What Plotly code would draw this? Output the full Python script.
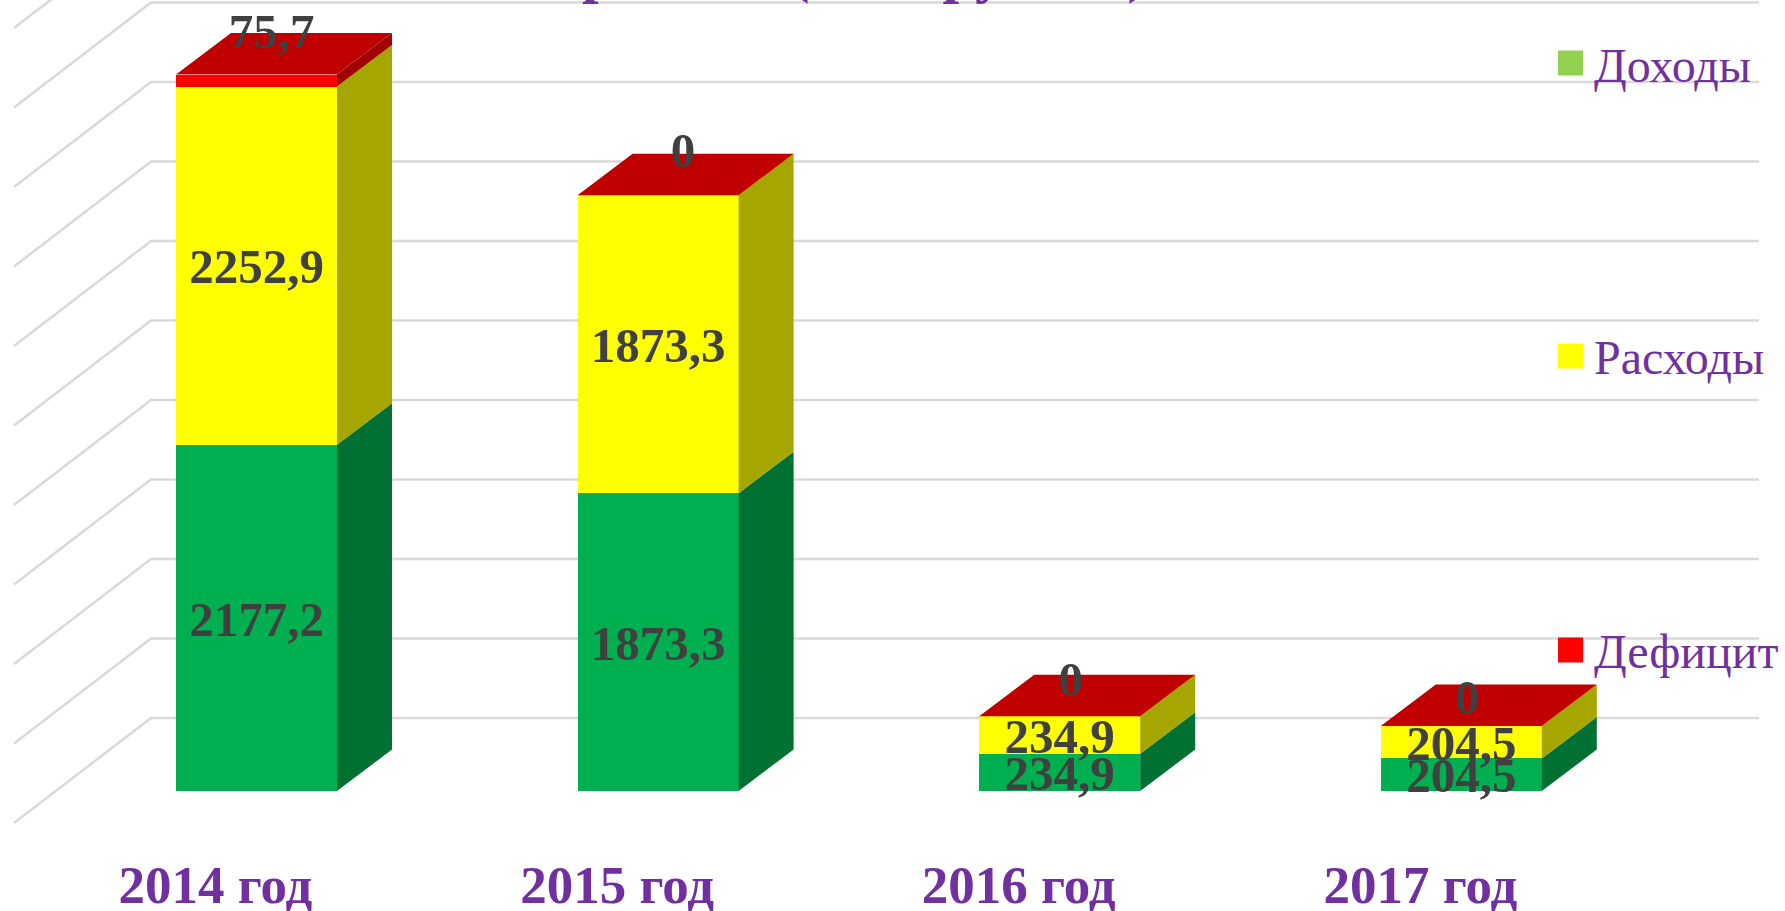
import plotly.graph_objects as go

# --- data -------------------------------------------------------------
years = ["2014 год", "2015 год", "2016 год", "2017 год"]
dohody = [2177.2, 1873.3, 234.9, 204.5]
rashody = [2252.9, 1873.3, 234.9, 204.5]
deficit = [75.7, 0, 0, 0]
grid_values = [0, 500, 1000, 1500, 2000, 2500, 3000, 3500, 4000, 4500, 5000]
legend_names = ["Доходы", "Расходы", "Дефицит"]
title_text = "района (тыс. рублей)"

# --- layout constants -------------------------------------------------
W, H = 1785, 911
PLOT_H = 843           # bottom of plot area, px
PX_CAT = 401.6         # px per category
CAT0 = 256.5           # px of first category centre
PX_VAL = 0.159         # px per value unit
Y0 = 791               # px of value 0
BAR_W = 161 / PX_CAT
DX = 55 / PX_CAT       # 3-D depth in x units
DY = 41.5 / PX_VAL     # 3-D depth in y units
WALL_DY = 73 / PX_VAL  # back wall raised relative to the bars
xr = [-CAT0 / PX_CAT, (W - CAT0) / PX_CAT]
yr = [-(PLOT_H - Y0) / PX_VAL, Y0 / PX_VAL]
X = lambda px: (px - CAT0) / PX_CAT

PURPLE = "#7030A0"
GREY_TXT = "#404040"
SERIF = "Liberation Serif"

GREEN, YELLOW, RED = "#00B050", "#FFFF00", "#FF0000"
GREEN_S, YELLOW_S, RED_S = "#007033", "#A6A600", "#A00000"
TOP = "#C00000"
LEG_COL = ["#92D050", "#FFFF00", "#FF0000"]
LEG_Y = [63, 356, 650]
LEG_TEXT_Y = [66, 358, 651]

# --- back wall + floor grid -------------------------------------------
shapes = []
for v in grid_values:
    yw = v + WALL_DY
    yf = yw - 105 / PX_VAL
    shapes.append(dict(type="path", layer="below", xref="x", yref="y",
                       path=f"M {X(14)} {yf} L {X(151)} {yw} L {X(1759)} {yw}",
                       line=dict(color="#D9D9D9", width=2.5)))

x_pos = list(range(len(years)))
fig = go.Figure()

# --- front faces ------------------------------------------------------
for name, vals, col in [(legend_names[0], dohody, GREEN),
                        (legend_names[1], rashody, YELLOW),
                        (legend_names[2], deficit, RED)]:
    fig.add_bar(x=x_pos, y=vals, name=name, width=BAR_W, marker=dict(color=col, line=dict(width=0)),
                showlegend=False, hoverinfo="skip")


# --- side & top faces, derived from the stacks ------------------------
def poly_trace(xs, ys, col):
    fig.add_scatter(x=xs, y=ys, mode="lines", fill="toself", fillcolor=col,
                    line=dict(width=0, color=col), showlegend=False, hoverinfo="skip")


def side(lows, highs, col):
    xs, ys = [], []
    for i, (lo, hi) in enumerate(zip(lows, highs)):
        x1 = i + BAR_W / 2
        xs += [x1, x1 + DX, x1 + DX, x1, x1, None]
        ys += [lo, lo + DY, hi + DY, hi, lo, None]
    poly_trace(xs, ys, col)


top1 = dohody
top2 = [a + b for a, b in zip(dohody, rashody)]
top3 = [a + b for a, b in zip(top2, deficit)]
side([0] * 4, top1, GREEN_S)
side(top1, top2, YELLOW_S)
side(top2, top3, RED_S)

xs, ys = [], []
for i, t in enumerate(top3):
    x0, x1 = i - BAR_W / 2, i + BAR_W / 2
    xs += [x0, x1, x1 + DX, x0 + DX, x0, None]
    ys += [t, t, t + DY, t + DY, t, None]
poly_trace(xs, ys, TOP)


# --- data labels ------------------------------------------------------
def fmt(v):
    return str(v).replace(".", ",") if v else "0"


LAB_DOWN = 5.5 / PX_VAL
lab_x, lab_y, lab_t = [], [], []
for i in x_pos:
    lab_x.append(i); lab_y.append(dohody[i] / 2 - LAB_DOWN); lab_t.append(fmt(dohody[i]))
    lab_x.append(i); lab_y.append(dohody[i] + rashody[i] / 2 - LAB_DOWN); lab_t.append(fmt(rashody[i]))
def_dx = [15, 25, 11, 6]
def_dy = [38.5, 40.5, 32.5, 24.5]
for i in x_pos:
    lab_x.append(i + def_dx[i] / PX_CAT)
    lab_y.append(top3[i] + def_dy[i] / PX_VAL)
    lab_t.append(fmt(deficit[i]))
fig.add_scatter(x=lab_x, y=lab_y, text=lab_t, mode="text", textposition="middle center",
                textfont=dict(family=SERIF, size=49, color=GREY_TXT, weight=700),
                showlegend=False, hoverinfo="skip")

# --- manual legend + clipped title ------------------------------------
annotations = []
for name, ly, ty, col in zip(legend_names, LEG_Y, LEG_TEXT_Y, LEG_COL):
    shapes.append(dict(type="rect", xref="paper", yref="paper", layer="above",
                       x0=1558 / W, x1=1583 / W,
                       y0=1 - (ly + 12.5) / PLOT_H, y1=1 - (ly - 12.5) / PLOT_H,
                       fillcolor=col, line=dict(width=0)))
    annotations.append(dict(xref="paper", yref="paper", x=1592 / W, y=1 - ty / PLOT_H,
                            text=name, showarrow=False, xanchor="left", yanchor="middle",
                            font=dict(family=SERIF, size=48, color=PURPLE)))
annotations.append(dict(xref="paper", yref="paper", x=1150 / W, y=1 + 29 / PLOT_H,
                        text=title_text, showarrow=False, xanchor="right", yanchor="middle",
                        font=dict(family=SERIF, size=60, color=PURPLE, weight=700)))

fig.update_layout(
    width=W, height=H, barmode="stack", showlegend=False,
    paper_bgcolor="white", plot_bgcolor="rgba(0,0,0,0)",
    margin=dict(l=0, r=0, t=0, b=H - PLOT_H, pad=0),
    shapes=shapes, annotations=annotations,
    xaxis=dict(range=xr, tickmode="array", tickvals=[i - 41 / PX_CAT for i in x_pos], ticktext=years,
               showgrid=False, zeroline=False, showline=False, ticks="", ticklabelstandoff=6,
               tickfont=dict(family=SERIF, size=53, color=PURPLE, weight=700), automargin=False),
    yaxis=dict(range=yr, showgrid=False, zeroline=False, showline=False, showticklabels=False, ticks=""),
)
fig.write_html("out.html", config=dict(displayModeBar=False),
               post_script="document.body.style.margin='0';document.body.style.overflow='hidden';")
